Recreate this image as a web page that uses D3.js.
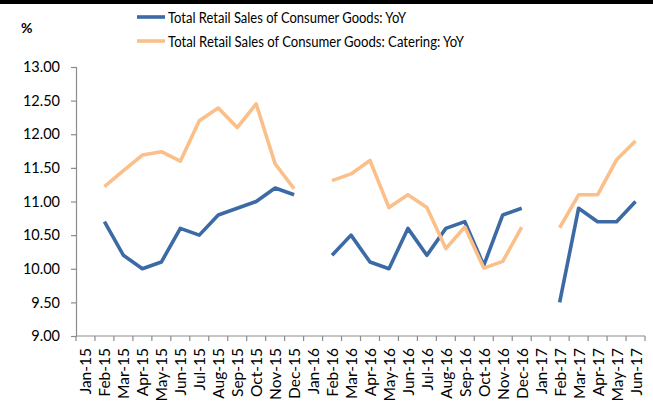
<!DOCTYPE html>
<html><head><meta charset="utf-8">
<script src="https://cdn.jsdelivr.net/npm/d3@7/dist/d3.min.js"></script>
<style>body{margin:0;background:#fff}svg{display:block}</style>
</head><body><svg id="c" width="653" height="418"></svg>
<script>
const categories = ["Jan-15","Feb-15","Mar-15","Apr-15","May-15","Jun-15","Jul-15","Aug-15","Sep-15","Oct-15","Nov-15","Dec-15",
  "Jan-16","Feb-16","Mar-16","Apr-16","May-16","Jun-16","Jul-16","Aug-16","Sep-16","Oct-16","Nov-16","Dec-16",
  "Jan-17","Feb-17","Mar-17","Apr-17","May-17","Jun-17"];
const retailYoY = [null,10.7,10.2,10.0,10.1,10.6,10.5,10.8,10.9,11.0,11.2,11.1,
  null,10.2,10.5,10.1,10.0,10.6,10.2,10.6,10.7,10.05,10.8,10.9,
  null,9.5,10.9,10.7,10.7,11.0];
const cateringYoY = [null,11.22,11.46,11.69,11.74,11.60,12.20,12.39,12.10,12.45,11.56,11.19,
  null,11.31,11.41,11.61,10.91,11.10,10.91,10.30,10.62,10.01,10.11,10.62,
  null,10.61,11.10,11.10,11.62,11.90];
const yTicks = [9.0,9.5,10.0,10.5,11.0,11.5,12.0,12.5,13.0];
const seriesNames = ["Total Retail Sales of Consumer Goods: YoY","Total Retail Sales of Consumer Goods: Catering: YoY"];
const colors = ["#3c6aa5","#fbbf8a"];

const svg = d3.select("#c");
const FONT = "Lato, 'Liberation Sans', sans-serif";
const mL = 76, mR = 645, mT = 67, mB = 336;

svg.append("rect").attr("x",0).attr("y",0).attr("width",653).attr("height",4).attr("fill","#000");

const x = d3.scaleBand().domain(categories).range([mL,mR]).padding(0);
const y = d3.scaleLinear().domain([9,13]).range([mB,mT]);

const ya = svg.append("g").attr("transform",`translate(${mL},0)`)
  .call(d3.axisLeft(y).tickValues(yTicks).tickFormat(d3.format(".2f")).tickSize(5).tickPadding(11));
ya.select(".domain").attr("stroke","#8c8c8c").attr("stroke-width",1.2);
ya.selectAll(".tick line").attr("stroke","#8c8c8c").attr("stroke-width",1.2);
ya.selectAll("text").attr("font-family",FONT).attr("font-size",14.5).attr("fill","#000");

const xg = svg.append("g").attr("transform",`translate(0,${mB})`);
xg.append("line").attr("x1",mL).attr("x2",mR).attr("stroke","#8c8c8c").attr("stroke-width",1.2);
const edges = categories.map(c=>x(c)).concat([mR]);
xg.selectAll("line.tk").data(edges).enter().append("line").attr("class","tk")
  .attr("x1",d=>d).attr("x2",d=>d).attr("y1",0).attr("y2",5).attr("stroke","#8c8c8c").attr("stroke-width",1.2);
xg.selectAll("text").data(categories).enter().append("text")
  .attr("transform",d=>`translate(${x(d)+x.bandwidth()/2+6},12) rotate(-90)`)
  .attr("text-anchor","end").attr("font-family",FONT).attr("font-size",15.5).attr("fill","#000").text(d=>d);

const line = d3.line().defined(d=>d.v!=null).x(d=>x(d.c)+x.bandwidth()/2).y(d=>y(d.v));
[retailYoY,cateringYoY].forEach((arr,i)=>{
  const data = categories.map((c,j)=>({c,v:arr[j]}));
  svg.append("path").datum(data).attr("d",line).attr("fill","none")
    .attr("stroke",colors[i]).attr("stroke-width",3.6).attr("stroke-linejoin","round");
});

const lg = svg.append("g");
const legendY = [17,41];
seriesNames.forEach((n,i)=>{
  lg.append("line").attr("x1",137).attr("x2",165).attr("y1",legendY[i]).attr("y2",legendY[i])
    .attr("stroke",colors[i]).attr("stroke-width",3.6);
  lg.append("text").attr("x",168).attr("y",legendY[i]+5.5).attr("font-family",FONT).attr("font-size",15.5)
    .attr("textLength",i===0?238:296).attr("lengthAdjust","spacingAndGlyphs").attr("fill","#000").text(n);
});
svg.append("text").attr("x",21).attr("y",33).attr("font-family",FONT).attr("font-weight","bold")
  .attr("font-size",14).attr("fill","#000").text("%");
</script></body></html>
